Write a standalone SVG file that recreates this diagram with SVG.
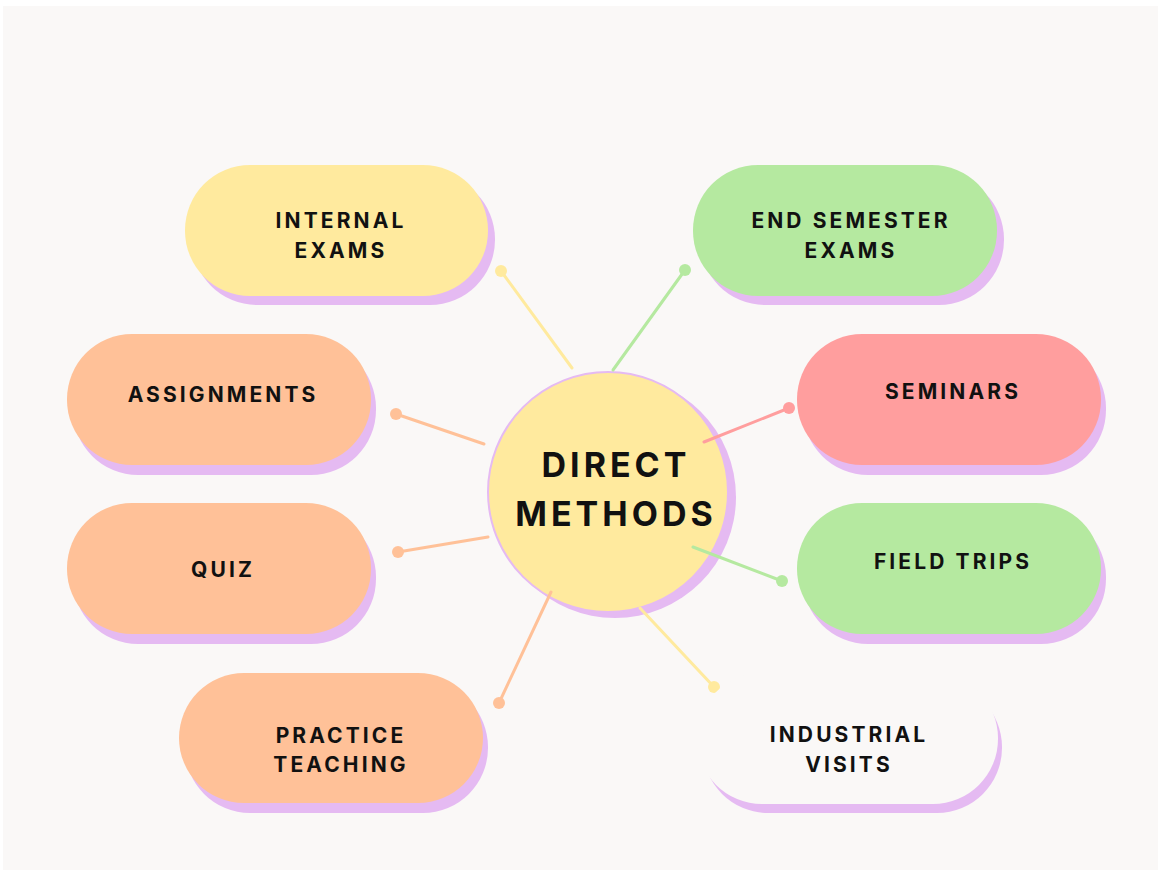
<svg xmlns="http://www.w3.org/2000/svg" width="1158" height="870" viewBox="0 0 1158 870">
<style>
.lbl{font-family:Inter,"Liberation Sans",sans-serif;font-weight:700;font-size:21px;letter-spacing:3.1px;fill:#111;text-anchor:middle}
.big{font-family:Inter,"Liberation Sans",sans-serif;font-weight:700;font-size:34px;letter-spacing:4px;fill:#111;text-anchor:middle}
.sh{fill:#E5BAF2}
.y{fill:#FFEA9E}.g{fill:#B5E9A0}.o{fill:#FFC198}.r{fill:#FF9E9E}.w{fill:#FAF8F7}
.ln{stroke-width:3;fill:none;stroke-linecap:round}
</style>
<rect x="0" y="0" width="1158" height="870" fill="#FFFFFF"/>
<rect x="3" y="6" width="1155" height="864" fill="#FAF8F7"/>

<g id="center">
<circle class="sh" cx="615" cy="497" r="121"/>
<circle cx="608" cy="492" r="120" fill="#FFEA9E" stroke="#E5BAF2" stroke-width="2"/>
<text class="big" x="616" y="477">DIRECT</text>
<text class="big" x="616" y="526">METHODS</text>
</g>

<g id="connectors">
<line class="ln" x1="501" y1="271" x2="572" y2="368" stroke="#FFEA9E"/><circle cx="501" cy="271" r="6" fill="#FFEA9E"/>
<line class="ln" x1="685" y1="270" x2="613" y2="370" stroke="#B5E9A0"/><circle cx="685" cy="270" r="6" fill="#B5E9A0"/>
<line class="ln" x1="396" y1="414" x2="484" y2="444" stroke="#FFC198"/><circle cx="396" cy="414" r="6" fill="#FFC198"/>
<line class="ln" x1="789" y1="408" x2="704" y2="442" stroke="#FF9E9E"/><circle cx="789" cy="408" r="6" fill="#FF9E9E"/>
<line class="ln" x1="398" y1="552" x2="488" y2="537" stroke="#FFC198"/><circle cx="398" cy="552" r="6" fill="#FFC198"/>
<line class="ln" x1="782" y1="581" x2="693" y2="547" stroke="#B5E9A0"/><circle cx="782" cy="581" r="6" fill="#B5E9A0"/>
<line class="ln" x1="499" y1="703" x2="551" y2="592" stroke="#FFC198"/><circle cx="499" cy="703" r="6" fill="#FFC198"/>
<line class="ln" x1="714" y1="687" x2="640" y2="608" stroke="#FFEA9E"/><circle cx="714" cy="687" r="6" fill="#FFEA9E"/>
</g>

<g id="internal-exams">
<rect class="sh" x="192" y="174" width="303" height="131" rx="65"/>
<rect class="y" x="185" y="165" width="303" height="131" rx="65"/>
<text class="lbl" x="341" y="228">INTERNAL</text>
<text class="lbl" x="341" y="258">EXAMS</text>
</g>

<g id="end-semester-exams">
<rect class="sh" x="700" y="174" width="304" height="131" rx="65"/>
<rect class="g" x="693" y="165" width="304" height="131" rx="65"/>
<text class="lbl" x="851" y="228">END SEMESTER</text>
<text class="lbl" x="851" y="258">EXAMS</text>
</g>

<g id="assignments">
<rect class="sh" x="73" y="343" width="303" height="132" rx="65"/>
<rect class="o" x="67" y="334" width="304" height="131" rx="65"/>
<text class="lbl" x="223" y="402">ASSIGNMENTS</text>
</g>

<g id="seminars">
<rect class="sh" x="803" y="343" width="303" height="132" rx="65"/>
<rect class="r" x="797" y="334" width="304" height="131" rx="65"/>
<text class="lbl" x="953" y="399">SEMINARS</text>
</g>

<g id="quiz">
<rect class="sh" x="73" y="512" width="303" height="132" rx="65"/>
<rect class="o" x="67" y="503" width="304" height="131" rx="65"/>
<text class="lbl" x="223" y="577">QUIZ</text>
</g>

<g id="field-trips">
<rect class="sh" x="803" y="512" width="303" height="132" rx="65"/>
<rect class="g" x="797" y="503" width="304" height="131" rx="65"/>
<text class="lbl" x="953" y="569">FIELD TRIPS</text>
</g>

<g id="practice-teaching">
<rect class="sh" x="185" y="682" width="303" height="131" rx="65"/>
<rect class="o" x="179" y="673" width="304" height="130" rx="65"/>
<text class="lbl" x="341" y="743">PRACTICE</text>
<text class="lbl" x="341" y="772">TEACHING</text>
</g>

<g id="industrial-visits">
<rect class="sh" x="703" y="682" width="299" height="131" rx="65"/>
<rect class="w" x="697" y="673" width="301" height="131" rx="65"/>
<text class="lbl" x="849" y="742">INDUSTRIAL</text>
<text class="lbl" x="849" y="772">VISITS</text>
</g>
</svg>
